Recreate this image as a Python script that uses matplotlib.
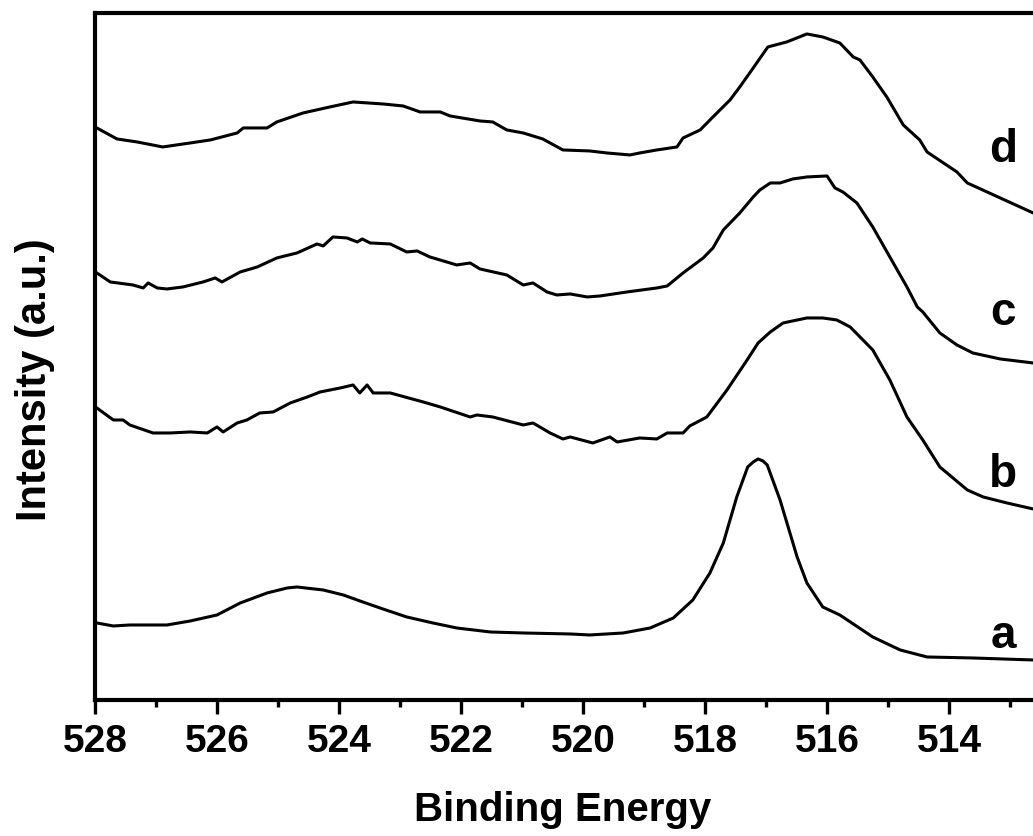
import matplotlib.pyplot as plt

# binding energy (eV) and intensity (a.u.) for each spectrum
energy_a = [527.97, 527.70, 527.43, 526.82, 526.44, 526.00, 525.62, 525.18, 524.85, 524.69,
            524.26, 523.93, 523.61, 523.28, 522.89, 522.46, 522.07, 521.52, 520.98, 520.21,
            519.89, 519.34, 518.90, 518.52, 518.20, 517.92, 517.70, 517.48, 517.30, 517.21,
            517.13, 517.05, 516.98, 516.77, 516.49, 516.33, 516.07, 515.79, 515.25, 514.80,
            514.36, 513.61, 512.62]
int_a = [77, 74, 75, 75, 79, 85, 97, 107, 112, 113,
         110, 105, 98, 91, 83, 77, 72, 68, 67, 66,
         65, 67, 72, 82, 100, 127, 157, 203, 233, 238,
         241, 239, 235, 200, 143, 117, 93, 85, 63, 50,
         43, 42, 40]

energy_b = [527.97, 527.70, 527.54, 527.43, 527.05, 526.77, 526.44, 526.16, 526.00, 525.90,
            525.67, 525.51, 525.30, 525.08, 524.80, 524.52, 524.31, 523.98, 523.77, 523.66,
            523.54, 523.44, 523.16, 522.62, 522.34, 521.85, 521.74, 521.48, 520.98, 520.82,
            520.54, 520.33, 520.21, 519.84, 519.56, 519.44, 519.07, 518.79, 518.62, 518.36,
            518.25, 517.97, 517.64, 517.31, 517.13, 516.93, 516.72, 516.33, 516.07, 515.84,
            515.62, 515.25, 514.97, 514.69, 514.43, 514.15, 513.70, 513.44, 513.05, 512.62]
int_b = [292, 280, 280, 275, 267, 267, 268, 267, 273, 268,
         277, 280, 287, 288, 297, 303, 308, 312, 315, 307,
         315, 307, 307, 298, 293, 283, 285, 283, 275, 277,
         267, 261, 263, 257, 263, 258, 262, 261, 267, 267,
         274, 283, 310, 340, 357, 368, 377, 382, 382, 380,
         373, 350, 320, 283, 260, 233, 210, 203, 197, 191]

energy_c = [527.97, 527.75, 527.38, 527.21, 527.13, 526.98, 526.82, 526.56, 526.23, 526.03,
            525.92, 525.62, 525.34, 525.02, 524.69, 524.36, 524.26, 524.10, 523.87, 523.70,
            523.62, 523.49, 523.16, 522.89, 522.72, 522.51, 522.07, 521.85, 521.69, 521.25,
            520.98, 520.82, 520.59, 520.43, 520.21, 519.93, 519.72, 519.28, 518.79, 518.62,
            518.36, 518.03, 517.87, 517.70, 517.43, 517.21, 517.10, 516.93, 516.77, 516.56,
            516.33, 516.00, 515.87, 515.74, 515.51, 515.25, 514.97, 514.69, 514.52, 514.43,
            514.15, 513.87, 513.61, 513.16, 512.62]
int_c = [427, 418, 415, 412, 417, 412, 411, 413, 418, 422,
         418, 428, 433, 442, 447, 456, 454, 463, 462, 458,
         461, 457, 456, 448, 449, 443, 435, 437, 431, 425,
         415, 417, 408, 405, 406, 403, 404, 408, 412, 414,
         427, 442, 452, 470, 487, 503, 510, 517, 517, 521,
         523, 524, 512, 508, 497, 473, 443, 413, 393, 388,
         367, 355, 347, 341, 337]

energy_d = [527.97, 527.64, 527.31, 526.89, 526.44, 526.11, 525.67, 525.57, 525.18, 525.02,
            524.59, 524.15, 523.77, 523.28, 522.95, 522.67, 522.34, 522.18, 521.69, 521.48,
            521.25, 520.98, 520.66, 520.33, 519.89, 519.61, 519.23, 519.07, 518.79, 518.46,
            518.36, 518.08, 517.87, 517.59, 517.43, 517.21, 516.97, 516.66, 516.33, 516.07,
            515.79, 515.57, 515.46, 515.25, 515.02, 514.75, 514.48, 514.36, 513.87, 513.70,
            513.16, 512.62]
int_d = [572, 561, 558, 553, 557, 560, 567, 572, 572, 578,
         587, 593, 598, 596, 594, 588, 588, 584, 579, 578,
         570, 567, 561, 550, 549, 547, 545, 547, 550, 553,
         562, 570, 583, 600, 613, 632, 653, 658, 666, 663,
         657, 643, 640, 623, 603, 575, 560, 548, 528, 517,
         502, 487]

labels = ["a", "b", "c", "d"]
label_y = [52, 213, 375, 538]

plt.rcParams["font.family"] = ["Liberation Sans", "DejaVu Sans"]
plt.rcParams["font.weight"] = "bold"

fig = plt.figure(figsize=(10.33, 8.36), dpi=100)
ax = fig.add_axes([0.092, 0.1627, 0.9448, 0.8218])

for x, y in [(energy_a, int_a), (energy_b, int_b), (energy_c, int_c), (energy_d, int_d)]:
    ax.plot(x, y, color="black", lw=2.2, solid_joinstyle="round")

for lab, ly in zip(labels, label_y):
    ax.text(513.11, ly, lab, fontsize=33, fontweight="bold", ha="center", va="baseline")

ax.set_xlim(528, 512)
ax.set_ylim(0, 687)
ax.set_xticks([528, 526, 524, 522, 520, 518, 516, 514])
ax.set_xticks([527, 525, 523, 521, 519, 517, 515, 513], minor=True)
ax.set_yticks([])
ax.tick_params(axis="x", which="major", length=10, width=2.4, labelsize=28, pad=7)
ax.tick_params(axis="x", which="minor", length=5, width=2.4)
for s in ax.spines.values():
    s.set_linewidth(3)

fig.text(563 / 1033, 1 - 810 / 836, "Binding Energy", fontsize=29, fontweight="bold",
         ha="center", va="center")
fig.text(35 / 1033, 1 - 380 / 836, "Intensity (a.u.)", fontsize=30, fontweight="bold",
         ha="center", va="center", rotation=90)

fig.savefig("out.png", dpi=100)
